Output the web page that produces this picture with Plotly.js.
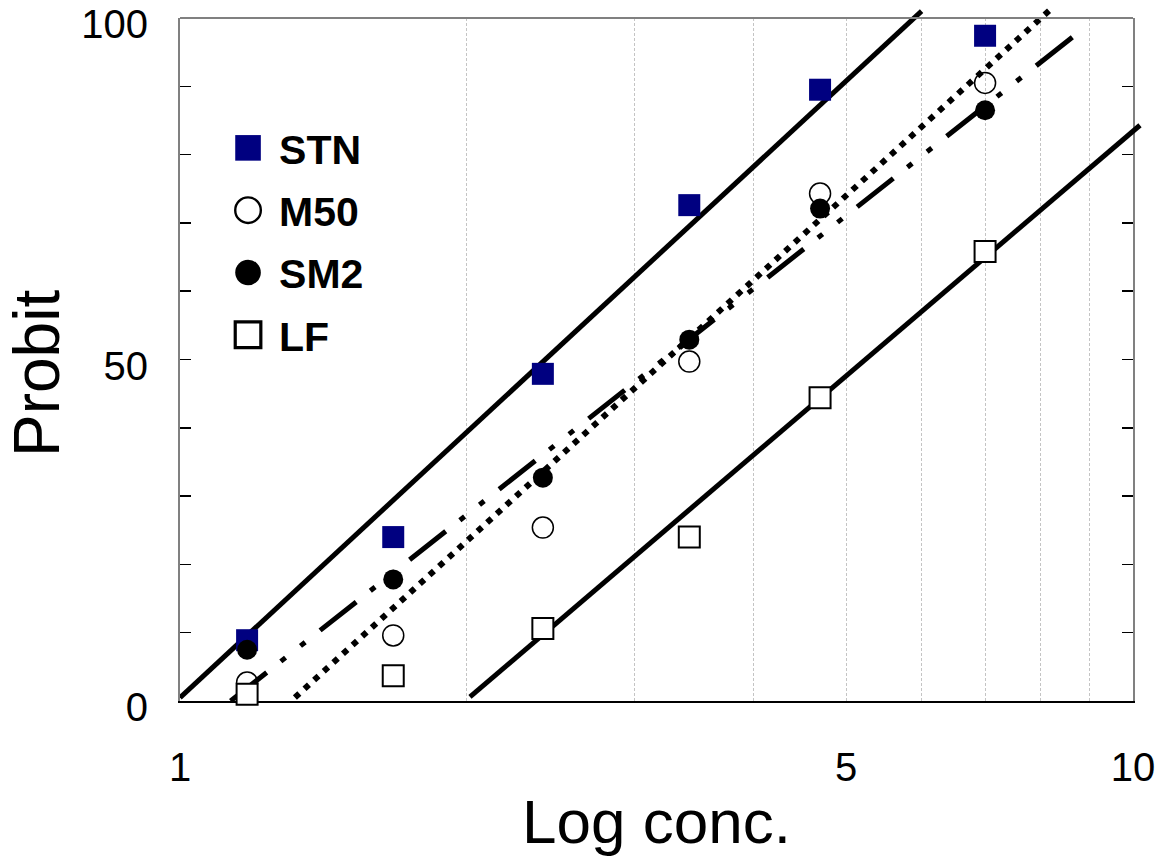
<!DOCTYPE html>
<html>
<head>
<meta charset="utf-8">
<script src="https://cdn.plot.ly/plotly-3.0.1.min.js"></script>
<style>html,body{margin:0;padding:0;background:#fff;}#chart{width:1176px;height:868px;}</style>
</head>
<body>
<div id="chart"></div>
<script>
// ---- data ----
const concentrations = [1.176, 1.674, 2.403, 3.423, 4.695, 6.995];
const stnProbit = [8.9, 24.0, 47.9, 72.6, 89.5, 97.4];
const m50Probit = [2.7, 9.6, 25.4, 49.7, 74.3, 90.5];
const sm2Probit = [7.5, 17.8, 32.7, 52.9, 72.1, 86.5];
const lfProbit  = [1.0, 3.7, 10.6, 24.0, 44.4, 65.8];

// fitted regression lines (start / end of each trend line)
const stnFitX = [1.0, 6.0];   const stnFitY = [0.5, 101.0];
const m50FitX = [1.32, 8.2];  const m50FitY = [0.5, 101.3];
const sm2FitX = [1.13, 8.84]; const sm2FitY = [0.0, 98.3];
const lfFitX  = [2.015, 10.17]; const lfFitY = [0.6, 84.3];

const xTickVals = [1, 2, 3, 4, 5, 6, 7, 8, 9, 10];
const xTickText = ['1', '', '', '', '5', '', '', '', '', '10'];
const yTickVals = [0, 50, 100];
const yTickText = ['0', '50', '100'];
const seriesNames = ['STN', 'M50', 'SM2', 'LF'];
const xTitle = 'Log conc.';
const yTitle = 'Probit';

// ---- geometry: main frame and extended overlay for the trend lines ----
const W = 1176, H = 868;
const mL = 180, mR = 33, mT = 8, mB = 167;
const plotW = W - mL - mR, plotH = H - mT - mB;   // 963 x 693
const frameW = 953, frameH = 683;
const xDomMain = [0, frameW / plotW];
const yDomMain = [0, frameH / plotH];
const x2Range = [0, plotW / frameW];          // log10 units
const y2Range = [0, 100 * plotH / frameH];

const FONT = 'Liberation Sans, Arial, sans-serif';

const lineTrace = (x, y, dash, width) => ({
  x: x, y: y, type: 'scatter', mode: 'lines', xaxis: 'x2', yaxis: 'y2',
  showlegend: false, hoverinfo: 'skip',
  line: {color: '#000', width: width, dash: dash}
});

const data = [
  lineTrace(stnFitX, stnFitY, 'solid', 5),
  lineTrace(m50FitX, m50FitY, '6px,7px', 6),
  lineTrace(sm2FitX, sm2FitY, '46px,18px,6px,19px,6px,19px', 5),
  lineTrace(lfFitX, lfFitY, 'solid', 5),
  {x: concentrations, y: stnProbit, name: seriesNames[0], legendgroup: 'a', type: 'scatter', mode: 'markers',
   xaxis: 'x2', yaxis: 'y2', cliponaxis: false,
   marker: {symbol: 'square', size: 22, color: '#000080', line: {width: 0}}},
  {x: concentrations, y: m50Probit, name: seriesNames[1], legendgroup: 'b', type: 'scatter', mode: 'markers',
   xaxis: 'x2', yaxis: 'y2', cliponaxis: false,
   marker: {symbol: 'circle-open', size: 21, color: '#000', line: {width: 1.5, color: '#000'}}},
  {x: concentrations, y: sm2Probit, name: seriesNames[2], legendgroup: 'c', type: 'scatter', mode: 'markers',
   xaxis: 'x2', yaxis: 'y2', cliponaxis: false,
   marker: {symbol: 'circle', size: 20, color: '#000', line: {width: 0}}},
  {x: concentrations, y: lfProbit, name: seriesNames[3], legendgroup: 'd', type: 'scatter', mode: 'markers',
   xaxis: 'x2', yaxis: 'y2', cliponaxis: false,
   marker: {symbol: 'square', size: 21, color: '#fff', line: {width: 2, color: '#000'}}},
  // invisible anchor trace so the framed subplot is built
  {x: [1], y: [0], type: 'scatter', mode: 'markers', xaxis: 'x', yaxis: 'y', showlegend: false,
   hoverinfo: 'skip', marker: {opacity: 0, size: 1}}
];

const layout = {
  width: W, height: H,
  margin: {l: mL, r: mR, t: mT, b: mB, pad: 0},
  paper_bgcolor: '#fff', plot_bgcolor: 'rgba(0,0,0,0)',
  font: {family: FONT, color: '#000'},
  showlegend: true,
  legend: {
    x: 0.0613, y: 0.846, xanchor: 'left', yanchor: 'top',
    bgcolor: 'rgba(0,0,0,0)', borderwidth: 0,
    font: {family: FONT, size: 41, weight: 'bold', color: '#000'},
    tracegroupgap: 6, itemsizing: 'trace'
  },
  xaxis: {
    type: 'log', range: [0, 1], domain: xDomMain, anchor: 'y',
    tickmode: 'array', tickvals: xTickVals, ticktext: xTickText,
    ticks: '', showgrid: true, gridcolor: '#c4c4c4', gridwidth: 1, griddash: '3px,2px',
    showline: true, linecolor: '#000', linewidth: 2, mirror: false, zeroline: false,
    tickfont: {family: FONT, size: 40, color: '#000'}, ticklabelstandoff: 30,
    ticklabeloverflow: 'allow',
    title: {text: xTitle, font: {family: FONT, size: 62, color: '#000'}, standoff: 12},
    automargin: false, fixedrange: true
  },
  yaxis: {
    range: [0, 100], domain: yDomMain, anchor: 'x',
    tickmode: 'array', tickvals: yTickVals, ticktext: yTickText,
    ticks: 'inside', ticklen: 11, tickwidth: 1.5, tickcolor: '#000',
    minor: {dtick: 10, ticks: 'inside', ticklen: 11, tickwidth: 1.5, tickcolor: '#000', showgrid: false},
    showgrid: false, showline: true, linecolor: '#808080', linewidth: 2, mirror: 'ticks', zeroline: false,
    tickfont: {family: FONT, size: 40, color: '#000'}, ticklabelstandoff: 22,
    ticklabelshift: 6, ticklabeloverflow: 'allow',
    automargin: false, fixedrange: true
  },
  xaxis2: {type: 'log', range: x2Range, domain: [0, 1], anchor: 'y2', visible: false, fixedrange: true},
  yaxis2: {range: y2Range, domain: [0, 1], anchor: 'x2', visible: false, fixedrange: true},
  annotations: [
    {text: yTitle, xref: 'paper', yref: 'paper', x: (37 - mL) / plotW, y: 1 - (374 - mT) / plotH,
     xanchor: 'center', yanchor: 'middle', textangle: -90, showarrow: false,
     font: {family: FONT, size: 64, color: '#000'}}
  ],
  shapes: [
    {type: 'line', xref: 'x domain', yref: 'y domain', x0: 0, x1: 1, y0: 1, y1: 1,
     line: {color: '#808080', width: 2}, layer: 'above'}
  ]
};

Plotly.newPlot('chart', data, layout, {displayModeBar: false, staticPlot: true}).then(function (gd) {
  // let the legend symbols be drawn at the plotted marker size without clipping
  gd.querySelectorAll('.legend [clip-path]').forEach(function (e) { e.removeAttribute('clip-path'); });
  gd.querySelectorAll('.legend .legendpoints path.scatterpts').forEach(function (p) {
    const t = p.getAttribute('transform') || '';
    p.setAttribute('transform', t + ' translate(-11,0) scale(1.6)');
  });
});
</script>
</body>
</html>
